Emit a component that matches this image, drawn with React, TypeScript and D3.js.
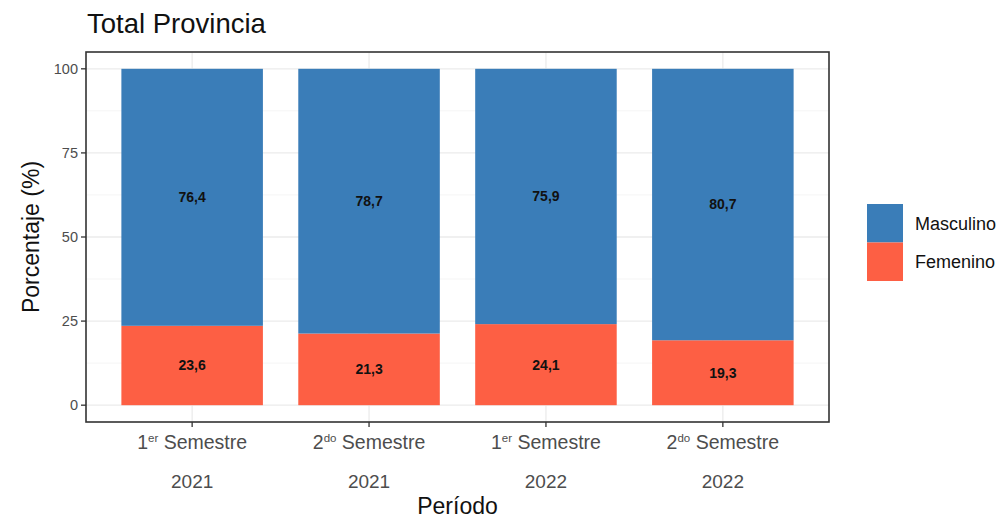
import React, { useEffect, useRef } from 'react';
import * as d3 from 'd3';

// categories: [ordinal number, superscript, year]
const periods = ['1S2021', '2S2021', '1S2022', '2S2022'];
const periodNum = ['1', '2', '1', '2'];
const periodSup = ['er', 'do', 'er', 'do'];
const periodYear = ['2021', '2021', '2022', '2022'];

const masculino = [76.4, 78.7, 75.9, 80.7];
const femenino = [23.6, 21.3, 24.1, 19.3];

const yTicks = [0, 25, 50, 75, 100];
const yMinor = [12.5, 37.5, 62.5, 87.5];

const seriesKeys = ['Femenino', 'Masculino'];
const legendKeys = ['Masculino', 'Femenino'];
const colors: Record<string, string> = { Masculino: '#3a7db8', Femenino: '#fd5f44' };

const FONT = "'Liberation Sans', Arial, Helvetica, sans-serif";

const App: React.FC = () => {
  const svgRef = useRef<SVGSVGElement>(null);

  useEffect(() => {
    const svg = d3.select(svgRef.current);
    svg.selectAll('*').remove();

    const W = 1007, H = 524;
    const panel = { left: 86, right: 829, top: 52, bottom: 422 };

    svg.attr('width', W).attr('height', H).style('font-family', FONT);

    const x = d3.scaleBand<string>()
      .domain(periods)
      .range([panel.left, panel.right])
      .paddingInner(0.2)
      .paddingOuter(0.2);

    const y = d3.scaleLinear().domain([-5, 105]).range([panel.bottom, panel.top]);

    // panel background
    svg.append('rect')
      .attr('x', panel.left).attr('y', panel.top)
      .attr('width', panel.right - panel.left).attr('height', panel.bottom - panel.top)
      .attr('fill', 'white');

    // minor grid
    svg.append('g').selectAll('line').data(yMinor).join('line')
      .attr('x1', panel.left).attr('x2', panel.right)
      .attr('y1', d => y(d)).attr('y2', d => y(d))
      .attr('stroke', '#f2f2f2').attr('stroke-width', 0.8);

    // major grid
    svg.append('g').selectAll('line').data(yTicks).join('line')
      .attr('x1', panel.left).attr('x2', panel.right)
      .attr('y1', d => y(d)).attr('y2', d => y(d))
      .attr('stroke', '#ebebeb').attr('stroke-width', 1.3);

    svg.append('g').selectAll('line').data(periods).join('line')
      .attr('x1', d => (x(d) as number) + x.bandwidth() / 2)
      .attr('x2', d => (x(d) as number) + x.bandwidth() / 2)
      .attr('y1', panel.top).attr('y2', panel.bottom)
      .attr('stroke', '#ebebeb').attr('stroke-width', 1.3);

    // stacked bars
    const rows = periods.map((p, i) => ({ period: p, Masculino: masculino[i], Femenino: femenino[i] }));
    const stacked = d3.stack<any>().keys(seriesKeys)(rows);

    const layers = svg.append('g').selectAll('g').data(stacked).join('g')
      .attr('fill', d => colors[d.key]);

    layers.selectAll('rect').data(d => d).join('rect')
      .attr('x', d => x(d.data.period) as number)
      .attr('width', x.bandwidth())
      .attr('y', d => y(d[1]))
      .attr('height', d => y(d[0]) - y(d[1]));

    // value labels
    stacked.forEach(layer => {
      svg.append('g').selectAll('text').data(layer).join('text')
        .attr('x', d => (x(d.data.period) as number) + x.bandwidth() / 2)
        .attr('y', d => y((d[0] + d[1]) / 2))
        .attr('dy', '0.35em')
        .attr('text-anchor', 'middle')
        .style('font-size', '14px')
        .style('font-weight', 'bold')
        .style('fill', '#111')
        .text(d => d3.format('.1f')(d[1] - d[0]).replace('.', ','));
    });

    // panel border
    svg.append('rect')
      .attr('x', panel.left).attr('y', panel.top)
      .attr('width', panel.right - panel.left).attr('height', panel.bottom - panel.top)
      .attr('fill', 'none').attr('stroke', '#333').attr('stroke-width', 1.6);

    // y axis ticks + labels
    const yAxis = svg.append('g');
    yAxis.selectAll('line').data(yTicks).join('line')
      .attr('x1', panel.left - 5).attr('x2', panel.left)
      .attr('y1', d => y(d)).attr('y2', d => y(d))
      .attr('stroke', '#333').attr('stroke-width', 1.3);
    yAxis.selectAll('text').data(yTicks).join('text')
      .attr('x', panel.left - 8)
      .attr('y', d => y(d))
      .attr('dy', '0.35em')
      .attr('text-anchor', 'end')
      .style('font-size', '14.5px')
      .style('fill', '#4d4d4d')
      .text(d => d);

    // x axis ticks + labels
    const xAxis = svg.append('g');
    periods.forEach((p, i) => {
      const cx = (x(p) as number) + x.bandwidth() / 2;
      xAxis.append('line')
        .attr('x1', cx).attr('x2', cx)
        .attr('y1', panel.bottom).attr('y2', panel.bottom + 5)
        .attr('stroke', '#333').attr('stroke-width', 1.3);
      const t = xAxis.append('text')
        .attr('x', cx).attr('y', 449)
        .attr('text-anchor', 'middle')
        .style('font-size', '19.5px')
        .style('fill', '#4d4d4d');
      t.append('tspan').text(periodNum[i]);
      t.append('tspan').attr('dy', -7).style('font-size', '11.5px').text(periodSup[i]);
      t.append('tspan').attr('dy', 7).text(' Semestre');
      xAxis.append('text')
        .attr('x', cx).attr('y', 488)
        .attr('text-anchor', 'middle')
        .style('font-size', '19px')
        .style('fill', '#4d4d4d')
        .text(periodYear[i]);
    });

    // axis titles
    svg.append('text')
      .attr('x', (panel.left + panel.right) / 2)
      .attr('y', 514)
      .attr('text-anchor', 'middle')
      .style('font-size', '23px')
      .style('fill', '#111')
      .text('Período');

    svg.append('text')
      .attr('transform', `translate(39, ${(panel.top + panel.bottom) / 2}) rotate(-90)`)
      .attr('text-anchor', 'middle')
      .style('font-size', '23px')
      .style('fill', '#111')
      .text('Porcentaje (%)');

    // title
    svg.append('text')
      .attr('x', 87).attr('y', 33)
      .style('font-size', '27.5px')
      .style('fill', '#111')
      .text('Total Provincia');

    // legend
    const legend = svg.append('g').attr('transform', 'translate(867, 204)');
    legendKeys.forEach((k, i) => {
      legend.append('rect')
        .attr('x', 0).attr('y', i * 38.5)
        .attr('width', 36).attr('height', 38.5)
        .attr('fill', colors[k]);
      legend.append('text')
        .attr('x', 48).attr('y', i * 38.5 + 19.25)
        .attr('dy', '0.35em')
        .style('font-size', '18px')
        .style('fill', '#111')
        .text(k);
    });
  }, []);

  return <svg ref={svgRef} style={{ display: 'block', position: 'absolute', left: 0, top: 0 }}></svg>;
};

export default App;
